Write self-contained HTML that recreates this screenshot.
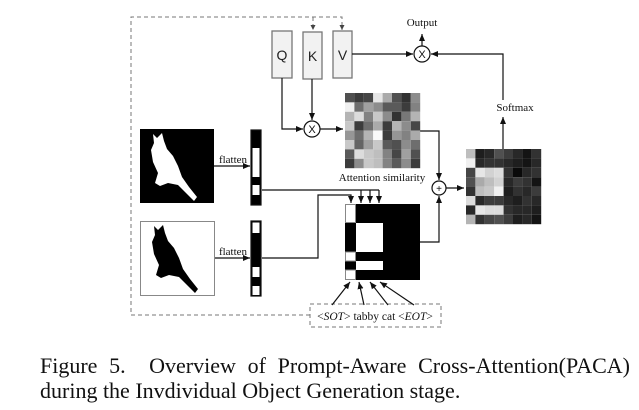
<!DOCTYPE html>
<html><head><meta charset="utf-8"><style>
html,body{margin:0;padding:0;background:#fff;width:639px;height:410px;overflow:hidden}
svg{position:absolute;left:0;top:0}
.cap{position:absolute;font-family:"Liberation Serif",serif;font-size:22px;line-height:25px;color:#111;white-space:nowrap}
.j{width:590px;text-align:justify;text-align-last:justify;white-space:normal}
</style></head><body>
<svg width="639" height="410" xmlns="http://www.w3.org/2000/svg" font-family="Liberation Serif, serif">
<defs>
<marker id="a" markerWidth="8" markerHeight="8" refX="7" refY="4" orient="auto" markerUnits="userSpaceOnUse"><path d="M0,1 L7,4 L0,7 Z" fill="#111"/></marker>
<marker id="ad" markerWidth="6" markerHeight="6" refX="5" refY="3" orient="auto" markerUnits="userSpaceOnUse"><path d="M0,0.5 L5,3 L0,5.5 Z" fill="#444"/></marker>
</defs>
<g stroke="#777" stroke-width="1" stroke-dasharray="4,3" fill="none">
<path d="M310,315 L131,315 L131,17 L342,17 L342,30" marker-end="url(#ad)"/>
<path d="M313,17 L313,30" marker-end="url(#ad)"/>
<rect x="310" y="304" width="131" height="23"/>
</g>
<g fill="#f2f2f2" stroke="#777" stroke-width="1.3">
<rect x="272" y="31" width="20" height="47"/>
<rect x="303" y="32" width="19" height="47"/>
<rect x="333" y="31" width="19" height="47"/>
</g>
<g font-family="Liberation Sans, sans-serif" font-size="14" fill="#222" text-anchor="middle">
<text x="282" y="60">Q</text><text x="312.5" y="61">K</text><text x="342.5" y="60">V</text>
</g>
<g stroke="#111" stroke-width="1.2" fill="none">
<path d="M282,78 L282,129 L303,129" marker-end="url(#a)"/>
<path d="M312,79 L312,120" marker-end="url(#a)"/>
<path d="M320,129 L343,129" marker-end="url(#a)"/>
<path d="M352,54 L413,54" marker-end="url(#a)"/>
<path d="M422,46 L422,34" marker-end="url(#a)"/>
<path d="M503,149 L503,117" marker-end="url(#a)"/>
<path d="M503,100 L503,54 L431,54" marker-end="url(#a)"/>
<path d="M420,131 L439,131 L439,180" marker-end="url(#a)"/>
<path d="M420,242 L439,242 L439,196" marker-end="url(#a)"/>
<path d="M446,188 L464,188" marker-end="url(#a)"/>
<path d="M214,166 L250,166" marker-end="url(#a)"/>
<path d="M214,258 L250,258" marker-end="url(#a)"/>
<path d="M262,190 L379,190"/>
<path d="M361,190 L361,203" marker-end="url(#a)"/>
<path d="M370,190 L370,203" marker-end="url(#a)"/>
<path d="M379,190 L379,203" marker-end="url(#a)"/>
<path d="M262,258 L318,258 L318,195 L351,195 L351,203" marker-end="url(#a)"/>
<path d="M332,305 L350,282" marker-end="url(#a)"/>
<path d="M364,305 L359,282" marker-end="url(#a)"/>
<path d="M388,305 L370,282" marker-end="url(#a)"/>
<path d="M414,305 L380,282" marker-end="url(#a)"/>
</g>
<g stroke="#111" stroke-width="1.2" fill="#fff">
<circle cx="312" cy="129" r="8"/><circle cx="422" cy="54" r="8"/><circle cx="439" cy="188" r="7"/>
</g>
<g font-family="Liberation Sans, sans-serif" font-size="11" text-anchor="middle" fill="#111">
<text x="312" y="133">X</text><text x="422" y="58">X</text><text x="439" y="192" font-size="10">+</text>
</g>
<g font-size="11" fill="#111" text-anchor="middle">
<text x="422" y="26">Output</text>
<text x="515" y="111">Softmax</text>
<text x="382" y="181">Attention similarity</text>
<text x="233" y="163">flatten</text>
<text x="233" y="255">flatten</text>
</g>
<text x="375" y="320" font-size="11.5" text-anchor="middle" fill="#111">&lt;<tspan font-style="italic">SOT</tspan>&gt; tabby cat &lt;<tspan font-style="italic">EOT</tspan>&gt;</text>
<g transform="translate(345,93)">
<g transform="scale(9.4)">
<rect x="0" y="0" width="1" height="1" fill="rgb(80,80,80)"/><rect x="1" y="0" width="1" height="1" fill="rgb(60,60,60)"/><rect x="2" y="0" width="1" height="1" fill="rgb(70,70,70)"/><rect x="3" y="0" width="1" height="1" fill="rgb(230,230,230)"/><rect x="4" y="0" width="1" height="1" fill="rgb(170,170,170)"/><rect x="5" y="0" width="1" height="1" fill="rgb(80,80,80)"/><rect x="6" y="0" width="1" height="1" fill="rgb(50,50,50)"/><rect x="7" y="0" width="1" height="1" fill="rgb(140,140,140)"/>
<rect x="0" y="1" width="1" height="1" fill="rgb(240,240,240)"/><rect x="1" y="1" width="1" height="1" fill="rgb(110,110,110)"/><rect x="2" y="1" width="1" height="1" fill="rgb(160,160,160)"/><rect x="3" y="1" width="1" height="1" fill="rgb(140,140,140)"/><rect x="4" y="1" width="1" height="1" fill="rgb(90,90,90)"/><rect x="5" y="1" width="1" height="1" fill="rgb(90,90,90)"/><rect x="6" y="1" width="1" height="1" fill="rgb(60,60,60)"/><rect x="7" y="1" width="1" height="1" fill="rgb(130,130,130)"/>
<rect x="0" y="2" width="1" height="1" fill="rgb(180,180,180)"/><rect x="1" y="2" width="1" height="1" fill="rgb(220,220,220)"/><rect x="2" y="2" width="1" height="1" fill="rgb(130,130,130)"/><rect x="3" y="2" width="1" height="1" fill="rgb(200,200,200)"/><rect x="4" y="2" width="1" height="1" fill="rgb(140,140,140)"/><rect x="5" y="2" width="1" height="1" fill="rgb(50,50,50)"/><rect x="6" y="2" width="1" height="1" fill="rgb(120,120,120)"/><rect x="7" y="2" width="1" height="1" fill="rgb(180,180,180)"/>
<rect x="0" y="3" width="1" height="1" fill="rgb(200,200,200)"/><rect x="1" y="3" width="1" height="1" fill="rgb(60,60,60)"/><rect x="2" y="3" width="1" height="1" fill="rgb(110,110,110)"/><rect x="3" y="3" width="1" height="1" fill="rgb(170,170,170)"/><rect x="4" y="3" width="1" height="1" fill="rgb(60,60,60)"/><rect x="5" y="3" width="1" height="1" fill="rgb(180,180,180)"/><rect x="6" y="3" width="1" height="1" fill="rgb(140,140,140)"/><rect x="7" y="3" width="1" height="1" fill="rgb(70,70,70)"/>
<rect x="0" y="4" width="1" height="1" fill="rgb(150,150,150)"/><rect x="1" y="4" width="1" height="1" fill="rgb(110,110,110)"/><rect x="2" y="4" width="1" height="1" fill="rgb(180,180,180)"/><rect x="3" y="4" width="1" height="1" fill="rgb(250,250,250)"/><rect x="4" y="4" width="1" height="1" fill="rgb(60,60,60)"/><rect x="5" y="4" width="1" height="1" fill="rgb(150,150,150)"/><rect x="6" y="4" width="1" height="1" fill="rgb(130,130,130)"/><rect x="7" y="4" width="1" height="1" fill="rgb(170,170,170)"/>
<rect x="0" y="5" width="1" height="1" fill="rgb(200,200,200)"/><rect x="1" y="5" width="1" height="1" fill="rgb(100,100,100)"/><rect x="2" y="5" width="1" height="1" fill="rgb(160,160,160)"/><rect x="3" y="5" width="1" height="1" fill="rgb(200,200,200)"/><rect x="4" y="5" width="1" height="1" fill="rgb(90,90,90)"/><rect x="5" y="5" width="1" height="1" fill="rgb(80,80,80)"/><rect x="6" y="5" width="1" height="1" fill="rgb(140,140,140)"/><rect x="7" y="5" width="1" height="1" fill="rgb(110,110,110)"/>
<rect x="0" y="6" width="1" height="1" fill="rgb(90,90,90)"/><rect x="1" y="6" width="1" height="1" fill="rgb(220,220,220)"/><rect x="2" y="6" width="1" height="1" fill="rgb(200,200,200)"/><rect x="3" y="6" width="1" height="1" fill="rgb(190,190,190)"/><rect x="4" y="6" width="1" height="1" fill="rgb(130,130,130)"/><rect x="5" y="6" width="1" height="1" fill="rgb(70,70,70)"/><rect x="6" y="6" width="1" height="1" fill="rgb(160,160,160)"/><rect x="7" y="6" width="1" height="1" fill="rgb(80,80,80)"/>
<rect x="0" y="7" width="1" height="1" fill="rgb(60,60,60)"/><rect x="1" y="7" width="1" height="1" fill="rgb(140,140,140)"/><rect x="2" y="7" width="1" height="1" fill="rgb(200,200,200)"/><rect x="3" y="7" width="1" height="1" fill="rgb(190,190,190)"/><rect x="4" y="7" width="1" height="1" fill="rgb(130,130,130)"/><rect x="5" y="7" width="1" height="1" fill="rgb(90,90,90)"/><rect x="6" y="7" width="1" height="1" fill="rgb(140,140,140)"/><rect x="7" y="7" width="1" height="1" fill="rgb(60,60,60)"/>
</g></g>
<g transform="translate(466,149)">
<g transform="scale(9.4)">
<rect x="0" y="0" width="1" height="1" fill="rgb(190,190,190)"/><rect x="1" y="0" width="1" height="1" fill="rgb(30,30,30)"/><rect x="2" y="0" width="1" height="1" fill="rgb(40,40,40)"/><rect x="3" y="0" width="1" height="1" fill="rgb(80,80,80)"/><rect x="4" y="0" width="1" height="1" fill="rgb(60,60,60)"/><rect x="5" y="0" width="1" height="1" fill="rgb(40,40,40)"/><rect x="6" y="0" width="1" height="1" fill="rgb(20,20,20)"/><rect x="7" y="0" width="1" height="1" fill="rgb(50,50,50)"/>
<rect x="0" y="1" width="1" height="1" fill="rgb(240,240,240)"/><rect x="1" y="1" width="1" height="1" fill="rgb(40,40,40)"/><rect x="2" y="1" width="1" height="1" fill="rgb(50,50,50)"/><rect x="3" y="1" width="1" height="1" fill="rgb(50,50,50)"/><rect x="4" y="1" width="1" height="1" fill="rgb(40,40,40)"/><rect x="5" y="1" width="1" height="1" fill="rgb(30,30,30)"/><rect x="6" y="1" width="1" height="1" fill="rgb(20,20,20)"/><rect x="7" y="1" width="1" height="1" fill="rgb(40,40,40)"/>
<rect x="0" y="2" width="1" height="1" fill="rgb(70,70,70)"/><rect x="1" y="2" width="1" height="1" fill="rgb(230,230,230)"/><rect x="2" y="2" width="1" height="1" fill="rgb(210,210,210)"/><rect x="3" y="2" width="1" height="1" fill="rgb(220,220,220)"/><rect x="4" y="2" width="1" height="1" fill="rgb(50,50,50)"/><rect x="5" y="2" width="1" height="1" fill="rgb(10,10,10)"/><rect x="6" y="2" width="1" height="1" fill="rgb(40,40,40)"/><rect x="7" y="2" width="1" height="1" fill="rgb(50,50,50)"/>
<rect x="0" y="3" width="1" height="1" fill="rgb(80,80,80)"/><rect x="1" y="3" width="1" height="1" fill="rgb(170,170,170)"/><rect x="2" y="3" width="1" height="1" fill="rgb(190,190,190)"/><rect x="3" y="3" width="1" height="1" fill="rgb(210,210,210)"/><rect x="4" y="3" width="1" height="1" fill="rgb(40,40,40)"/><rect x="5" y="3" width="1" height="1" fill="rgb(60,60,60)"/><rect x="6" y="3" width="1" height="1" fill="rgb(50,50,50)"/><rect x="7" y="3" width="1" height="1" fill="rgb(20,20,20)"/>
<rect x="0" y="4" width="1" height="1" fill="rgb(50,50,50)"/><rect x="1" y="4" width="1" height="1" fill="rgb(190,190,190)"/><rect x="2" y="4" width="1" height="1" fill="rgb(200,200,200)"/><rect x="3" y="4" width="1" height="1" fill="rgb(240,240,240)"/><rect x="4" y="4" width="1" height="1" fill="rgb(30,30,30)"/><rect x="5" y="4" width="1" height="1" fill="rgb(50,50,50)"/><rect x="6" y="4" width="1" height="1" fill="rgb(40,40,40)"/><rect x="7" y="4" width="1" height="1" fill="rgb(60,60,60)"/>
<rect x="0" y="5" width="1" height="1" fill="rgb(220,220,220)"/><rect x="1" y="5" width="1" height="1" fill="rgb(40,40,40)"/><rect x="2" y="5" width="1" height="1" fill="rgb(60,60,60)"/><rect x="3" y="5" width="1" height="1" fill="rgb(60,60,60)"/><rect x="4" y="5" width="1" height="1" fill="rgb(40,40,40)"/><rect x="5" y="5" width="1" height="1" fill="rgb(30,30,30)"/><rect x="6" y="5" width="1" height="1" fill="rgb(50,50,50)"/><rect x="7" y="5" width="1" height="1" fill="rgb(40,40,40)"/>
<rect x="0" y="6" width="1" height="1" fill="rgb(40,40,40)"/><rect x="1" y="6" width="1" height="1" fill="rgb(230,230,230)"/><rect x="2" y="6" width="1" height="1" fill="rgb(220,220,220)"/><rect x="3" y="6" width="1" height="1" fill="rgb(220,220,220)"/><rect x="4" y="6" width="1" height="1" fill="rgb(50,50,50)"/><rect x="5" y="6" width="1" height="1" fill="rgb(40,40,40)"/><rect x="6" y="6" width="1" height="1" fill="rgb(40,40,40)"/><rect x="7" y="6" width="1" height="1" fill="rgb(30,30,30)"/>
<rect x="0" y="7" width="1" height="1" fill="rgb(180,180,180)"/><rect x="1" y="7" width="1" height="1" fill="rgb(50,50,50)"/><rect x="2" y="7" width="1" height="1" fill="rgb(70,70,70)"/><rect x="3" y="7" width="1" height="1" fill="rgb(80,80,80)"/><rect x="4" y="7" width="1" height="1" fill="rgb(60,60,60)"/><rect x="5" y="7" width="1" height="1" fill="rgb(30,30,30)"/><rect x="6" y="7" width="1" height="1" fill="rgb(40,40,40)"/><rect x="7" y="7" width="1" height="1" fill="rgb(20,20,20)"/>
</g></g>
<rect x="345" y="204" width="75" height="76" fill="#000"/>
<rect x="345.5" y="204.5" width="10" height="18" fill="#fff" stroke="#888" stroke-width="1"/>
<rect x="345.5" y="252" width="10" height="9" fill="#fff" stroke="#888" stroke-width="1"/>
<rect x="345.5" y="270" width="10" height="9.5" fill="#fff" stroke="#888" stroke-width="1"/>
<rect x="356" y="223" width="27" height="29" fill="#fff"/>
<rect x="356" y="261" width="27" height="9" fill="#fff"/>
<rect x="140" y="129" width="74" height="74" fill="#000"/>
<path d="M153,134 L157,138 L162,133 L164,141 L167,149 L173,156 L178,166 L182,177 L189,187 L197,197 L194,201 L186,193 L178,185 L168,183 L160,186 L155,183 L158,173 L153,162 L151,150 L154,143 Z" fill="#fff"/>
<rect x="140.5" y="221.5" width="74" height="74" fill="#fff" stroke="#888" stroke-width="1"/>
<path d="M154,226 L158,230 L163,225 L165,233 L168,241 L174,248 L179,258 L183,269 L190,279 L198,289 L195,293 L187,285 L179,277 L169,275 L161,278 L156,275 L159,265 L154,254 L152,242 L155,235 Z" fill="#000"/>
<g stroke="#111" stroke-width="1.2">
<rect x="251" y="130" width="10" height="75" fill="#000"/>
<rect x="251" y="221" width="10" height="75" fill="#000"/>
</g>
<g fill="#fff">
<rect x="252.5" y="148" width="7" height="29"/><rect x="252.5" y="185" width="7" height="10"/>
<rect x="252.5" y="222.5" width="7" height="10.5"/><rect x="252.5" y="267" width="7" height="10"/><rect x="252.5" y="286" width="7" height="9"/>
</g>
</svg>
<div class="cap j" style="left:40px;top:353px">Figure 5.&nbsp; Overview of Prompt-Aware Cross-Attention(PACA)</div>
<div class="cap" style="left:40px;top:378px">during the Invdividual Object Generation stage.</div>
</body></html>
